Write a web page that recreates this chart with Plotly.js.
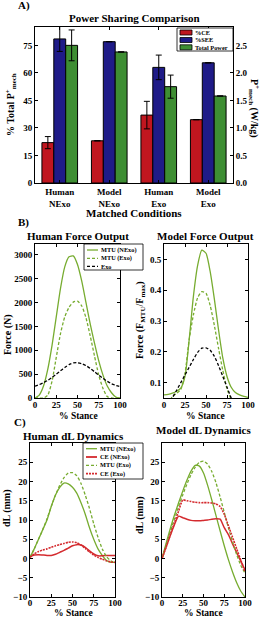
<!DOCTYPE html>
<html><head><meta charset="utf-8">
<script src="https://cdn.plot.ly/plotly-3.0.1.min.js"></script>
<style>html,body{margin:0;padding:0;background:#fff}#c{width:267px;height:617px}</style>
</head><body><div id="c"></div>
<script>
// ---------- Panel A data ----------
const conditions = ["Human<br>NExo", "Model<br>NExo", "Human<br>Exo", "Model<br>Exo"];
const pctCE = [22, 23, 37, 34.5];
const pctCEerr = [3.3, 0, 7.5, 0];
const pctSEE = [78.5, 77, 63, 65.5];
const pctSEEerr = [6.8, 0, 6.7, 0];
const totalPower = [2.5, 2.38, 1.75, 1.58];      // W/kg
const totalPowerErr = [0.28, 0, 0.21, 0];
const leftTicks = [0, 15, 30, 45, 60, 75];
const rightTicks = [0, 0.5, 1.0, 1.5, 2.0, 2.5];

// ---------- Stance axis ----------
const stance = [0,5,10,15,20,25,30,35,40,45,50,55,60,65,70,75,80,85,90,95,100];
const stanceTicks = [0, 25, 50, 75, 100];

// ---------- Panel B: Human force (N) ----------
const humanMTU_NExo = [0,60,250,600,1100,1700,2300,2750,2960,2980,2800,2450,2000,1550,1150,780,480,250,110,20,0];
const humanMTU_Exo  = [0,0,0,60,350,850,1350,1700,1900,2010,2030,1930,1680,1300,880,480,200,30,0,0,0];
const humanExo      = [250,280,320,370,430,500,570,640,700,735,740,720,680,620,550,480,410,350,300,265,240];
const humanForceTicks = [0,500,1000,1500,2000,2500,3000];

// ---------- Panel B: Model force (F/Fmax) ----------
const modelMTU_NExo = [0.060,0.062,0.066,0.072,0.082,0.12,0.24,0.38,0.48,0.53,0.52,0.46,0.37,0.27,0.18,0.12,0.085,0.068,0.060,0.055,0.052];
const modelMTU_Exo  = [0.02,0.03,0.055,0.065,0.078,0.13,0.24,0.32,0.375,0.395,0.39,0.35,0.285,0.21,0.14,0.08,0.045,0.02,0.0,0.0,0.0];
const modelExo      = [-0.02,0.02,0.05,0.075,0.10,0.125,0.15,0.175,0.198,0.212,0.213,0.205,0.185,0.155,0.12,0.085,0.05,0.02,-0.01,-0.03,-0.05];
const modelForceTicks = [0.1,0.2,0.3,0.4,0.5];

// ---------- Panel C: Human dL (mm) ----------
const hMTU_NExo = [0.3,2.5,5,7.5,10,13.5,16.5,18.5,19.6,19.4,18.5,17,14.5,11.5,8,5,2.5,0.8,-0.5,-1,-1];
const hCE_NExo  = [0.5,0.9,1.0,0.9,0.8,0.8,1.1,1.6,2.1,2.7,3.3,3.6,3.5,2.9,2.0,1.2,0.7,0.7,0.8,0.8,0.8];
const hMTU_Exo  = [0.3,2.5,5,7.5,10.3,13.5,16.5,19,21,22.2,22.3,21.5,19.5,16.5,13,9,5.5,2.5,0.5,-0.6,-1];
const hCE_Exo   = [0.3,1.2,1.8,2.2,2.5,2.9,3.3,3.6,3.9,4.2,4.3,4.1,3.5,2.6,1.7,0.9,0.3,-0.2,-0.6,-0.9,-1.0];

// ---------- Panel C: Model dL (mm) ----------
const mMTU_NExo = [0,4,7.8,11.3,14.5,17.5,20.3,22.7,24.2,24,22.2,19,15.2,11.2,7.2,3.3,-0.3,-3.5,-6.3,-8.5,-10];
const mCE_NExo  = [0,3,6,8.8,11,10.6,10.2,9.9,9.8,9.8,9.9,10,10.2,10.3,10.2,8.0,6.2,3.8,1.5,-0.7,-3];
const mMTU_Exo  = [0,3.5,7,10.3,13.5,16.5,19.3,21.8,23.7,25,25.3,24.5,22.6,19.7,16,12,8,4.3,1,-1.8,-3.8];
const mCE_Exo   = [0,3,6.2,9.3,12.3,15.2,15.0,14.8,14.6,14.5,14.5,14.5,14.4,14.2,13.5,11.5,8.5,5.5,2.5,-0.5,-3.5];
const dLTicks = [-10,-5,0,5,10,15,20,25];

// ---------- styling ----------
const W = 267, H = 617;
const px = x => x / W, py = y => 1 - y / H;
const FAM = "Liberation Serif, Times New Roman, serif";
const barRed = "#C0161F", barBlue = "#1F1B88", barGreen = "#3E8E33";
const lGreen = "#77AC30", lRed = "#D42A2E";
const DASH = "3px,2px";

function ax(extra) {
  return Object.assign({
    showline: true, linecolor: "#000", linewidth: 1, mirror: "ticks",
    ticks: "inside", ticklen: 3, tickcolor: "#000",
    showgrid: false, zeroline: false, fixedrange: true,
    tickfont: {family: FAM, size: 9, color: "#000", weight: "bold"}
  }, extra);
}

const traces = [];
// Panel A bars
traces.push({type: "bar", x: conditions, y: pctCE, name: "%CE", xaxis: "x", yaxis: "y",
  width: 0.24, offset: -0.36, marker: {color: barRed, line: {color: "#000", width: 1}},
  error_y: {type: "data", array: pctCEerr, visible: true, color: "#000", thickness: 1, width: 3}});
traces.push({type: "bar", x: conditions, y: pctSEE, name: "%SEE", xaxis: "x", yaxis: "y",
  width: 0.24, offset: -0.12, marker: {color: barBlue, line: {color: "#000", width: 1}},
  error_y: {type: "data", array: pctSEEerr, visible: true, color: "#000", thickness: 1, width: 3}});
traces.push({type: "bar", x: conditions, y: totalPower, name: "Total Power", xaxis: "x", yaxis: "y2",
  width: 0.24, offset: 0.12, marker: {color: barGreen, line: {color: "#000", width: 1}},
  error_y: {type: "data", array: totalPowerErr, visible: true, color: "#000", thickness: 1, width: 3}});

function line(x, y, xa, ya, color, dash, w) {
  return {type: "scatter", mode: "lines", x: x, y: y, xaxis: xa, yaxis: ya,
    line: {color: color, dash: dash || "solid", width: w || 1.3, shape: "spline", smoothing: 0.6},
    showlegend: false, hoverinfo: "skip"};
}
// Panel B
traces.push(line(stance, humanMTU_NExo, "x2", "y3", lGreen));
traces.push(line(stance, humanMTU_Exo, "x2", "y3", lGreen, DASH));
traces.push(line(stance, humanExo, "x2", "y3", "#000", DASH));
traces.push(line(stance, modelMTU_NExo, "x3", "y4", lGreen));
traces.push(line(stance, modelMTU_Exo, "x3", "y4", lGreen, DASH));
traces.push(line(stance, modelExo, "x3", "y4", "#000", DASH));
// Panel C
traces.push(line(stance, hMTU_NExo, "x4", "y5", lGreen));
traces.push(line(stance, hCE_NExo, "x4", "y5", lRed, "solid", 1.5));
traces.push(line(stance, hMTU_Exo, "x4", "y5", lGreen, DASH));
traces.push(line(stance, hCE_Exo, "x4", "y5", lRed, "2px,1px", 1.6));
traces.push(line(stance, mMTU_NExo, "x5", "y6", lGreen));
traces.push(line(stance, mCE_NExo, "x5", "y6", lRed, "solid", 1.5));
traces.push(line(stance, mMTU_Exo, "x5", "y6", lGreen, DASH));
traces.push(line(stance, mCE_Exo, "x5", "y6", lRed, "2px,1px", 1.6));

const stanceAx = (d, so) => ax({domain: d, range: [0, 100], tickvals: stanceTicks, ticklabelstandoff: so});

const layout = {
  width: W, height: H, margin: {l: 0, r: 0, t: 0, b: 0},
  paper_bgcolor: "#fff", plot_bgcolor: "#fff", showlegend: false,
  font: {family: FAM, color: "#000"},
  xaxis: ax({domain: [px(35), px(233)], anchor: "y", type: "category", range: [-0.5, 3.5], ticklen: 3}),
  yaxis: ax({domain: [py(183), py(27)], anchor: "x", range: [0, 85], tickvals: leftTicks, mirror: false}),
  yaxis2: ax({overlaying: "y", side: "right", anchor: "x", range: [0, 85/30], tickvals: rightTicks, tickformat: ".1f", mirror: false}),
  xaxis2: stanceAx([px(35), px(120)], -2),
  yaxis3: ax({domain: [py(398), py(244)], range: [0, 3230], tickvals: humanForceTicks}),
  xaxis3: stanceAx([px(164), px(248)], -2),
  yaxis4: ax({domain: [py(398), py(244)], range: [0.05, 0.55], tickvals: modelForceTicks, tickformat: ".1f"}),
  xaxis4: stanceAx([px(30), px(115)], -3),
  yaxis5: ax({domain: [py(597), py(443)], range: [-10, 30], tickvals: dLTicks}),
  xaxis5: stanceAx([px(162), px(245)], -3),
  yaxis6: ax({domain: [py(597), py(443)], range: [-10, 30], tickvals: dLTicks}),
  shapes: [], annotations: []
};
layout.xaxis2.anchor = "y3"; layout.yaxis3.anchor = "x2";
layout.xaxis3.anchor = "y4"; layout.yaxis4.anchor = "x3";
layout.xaxis4.anchor = "y5"; layout.yaxis5.anchor = "x4";
layout.xaxis5.anchor = "y6"; layout.yaxis6.anchor = "x5";

function txt(t, x, y, size, opts) {
  layout.annotations.push(Object.assign({text: t, x: px(x), y: py(y), xref: "paper", yref: "paper",
    showarrow: false, xanchor: "center", yanchor: "middle", borderpad: 0,
    font: {family: FAM, size: size, color: "#000", weight: "bold"}}, opts || {}));
}
// Panel labels and titles
txt("A)", 24, 6, 11);
txt("B)", 23, 222, 11);
txt("C)", 20, 422, 11);
txt("Power Sharing Comparison", 134, 18, 11);
txt("Human Force Output", 78, 236, 11);
txt("Model Force Output", 205, 236, 11);
txt("Human dL Dynamics", 73, 436, 11);
txt("Model dL Dynamics", 203, 430, 11);
// axis titles
txt("Matched Conditions", 134, 213, 11);
txt("% Total P<sup>+</sup><sub>mech</sub>", 11, 105, 10, {textangle: -90});
txt("P<sup>+</sup><sub>mech</sub> (W/kg)", 254, 108, 10, {textangle: 90});
txt("% Stance", 78, 416, 9.5);
txt("% Stance", 205, 416, 9.5);
txt("% Stance", 73, 612.5, 9.5);
txt("% Stance", 203, 612.5, 9.5);
txt("Force (N)", 8, 335, 10, {textangle: -90});
txt("Force (F<sub>MTU</sub>/F<sub>max</sub>)", 140, 320, 10, {textangle: -90});
txt("dL (mm)", 7, 508, 10, {textangle: -90});
txt("dL (mm)", 140, 515, 10, {textangle: -90});

// legends (drawn as paper shapes + text)
function box(x0, y0, x1, y1) {
  layout.shapes.push({type: "rect", xref: "paper", yref: "paper", x0: px(x0), x1: px(x1), y0: py(y1), y1: py(y0),
    line: {color: "#000", width: 0.8}, fillcolor: "#fff", layer: "above"});
}
function swLine(x0, x1, y, color, dash, w) {
  layout.shapes.push({type: "line", xref: "paper", yref: "paper", x0: px(x0), x1: px(x1), y0: py(y), y1: py(y),
    line: {color: color, width: w || 1.3, dash: dash || "solid"}, layer: "above"});
}
function swRect(x0, x1, y, color) {
  layout.shapes.push({type: "rect", xref: "paper", yref: "paper", x0: px(x0), x1: px(x1), y0: py(y + 2.5), y1: py(y - 2.5),
    line: {color: "#000", width: 0.8}, fillcolor: color, layer: "above"});
}
const LF = 6.3;
// A legend
box(177, 28, 233, 51);
[["%CE", barRed, 32.5], ["%SEE", barBlue, 40], ["Total Power", barGreen, 47.3]].forEach(e => {
  swRect(180, 192, e[2], e[1]);
  txt(e[0], 194, e[2], LF, {xanchor: "left"});
});
// B legend
box(84, 244, 143, 270);
[["MTU (NExo)", lGreen, "solid", 250], ["MTU (Exo)", lGreen, DASH, 258.3], ["Exo", "#000", DASH, 266.3]].forEach(e => {
  swLine(87, 98, e[3], e[1], e[2]);
  txt(e[0], 100, e[3], LF, {xanchor: "left"});
});
// C legend
box(83, 443, 143, 479);
[["MTU (NExo)", lGreen, "solid", 448.7, 1.3], ["CE (NExo)", lRed, "solid", 457, 1.8],
 ["MTU (Exo)", lGreen, DASH, 465.3, 1.3], ["CE (Exo)", lRed, "2px,1px", 473.7, 1.8]].forEach(e => {
  swLine(86, 97, e[3], e[1], e[2], e[4]);
  txt(e[0], 99, e[3], LF, {xanchor: "left"});
});

Plotly.newPlot("c", traces, layout, {displayModeBar: false, staticPlot: true});
</script>
</body></html>
